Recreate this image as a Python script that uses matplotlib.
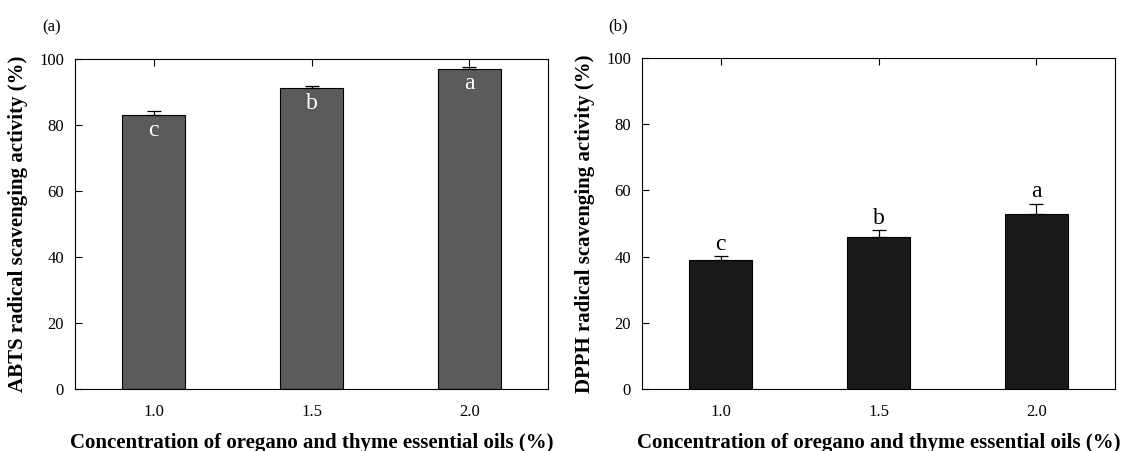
import matplotlib
matplotlib.use("Agg")
import matplotlib.pyplot as plt

plt.rcParams['font.family'] = ['Liberation Serif', 'DejaVu Serif']

categories = ["1.0", "1.5", "2.0"]
abts_values = [83.0, 91.1, 97.1]
abts_err = [1.3, 0.7, 0.4]
abts_letters = ["c", "b", "a"]
dpph_values = [39.0, 46.0, 52.8]
dpph_err = [1.2, 2.1, 3.2]
dpph_letters = ["c", "b", "a"]
yticks = [0, 20, 40, 60, 80, 100]

xlabel = "Concentration of oregano and thyme essential oils (%)"

fig = plt.figure(figsize=(11.22, 4.51), dpi=100)
W, H = 1122, 451

def make_ax(l, r, t, b):
    return fig.add_axes([l / W, 1 - b / H, (r - l) / W, (b - t) / H])

ax1 = make_ax(75, 548, 59, 389)
ax2 = make_ax(642, 1115, 58, 389)

def draw(ax, vals, errs, letters, color, ylabel, inside, panel):
    x = list(range(len(categories)))
    ax.bar(x, vals, width=0.4, color=color, edgecolor='black', linewidth=0.8, zorder=2)
    ax.errorbar(x, vals, yerr=[[0] * len(errs), errs], fmt='none', ecolor='black',
                elinewidth=0.9, capsize=5, capthick=0.9, zorder=3)
    for xi, v, e, lt in zip(x, vals, errs, letters):
        if inside:
            ax.text(xi, v - 6.3, lt, ha='center', va='baseline', color='white', fontsize=17)
        else:
            ax.text(xi, v + e + 1.9, lt, ha='center', va='baseline', color='black', fontsize=17)
    ax.set_xlim(-0.5, 2.5)
    ax.set_ylim(0, 100)
    ax.set_yticks(yticks)
    ax.set_xticks(x)
    ax.set_xticklabels(categories, fontsize=12)
    ax.tick_params(axis='y', direction='in', length=5, labelsize=12, pad=8, width=0.8)
    ax.tick_params(axis='x', direction='in', length=5, top=True, pad=11, width=0.8)
    for s in ax.spines.values():
        s.set_linewidth(0.8)
    ax.set_xlabel(xlabel, fontsize=15, fontweight='bold', labelpad=9)
    ax.set_ylabel(ylabel, fontsize=15, fontweight='bold', labelpad=8)
    ax.text(-0.05, 1.095, panel, transform=ax.transAxes, fontsize=12, ha='center', va='center')

draw(ax1, abts_values, abts_err, abts_letters, '#5b5b5b',
     "ABTS radical scavenging activity (%)", True, "(a)")
draw(ax2, dpph_values, dpph_err, dpph_letters, '#1a1a1a',
     "DPPH radical scavenging activity (%)", False, "(b)")

fig.savefig("out.png", dpi=100)
